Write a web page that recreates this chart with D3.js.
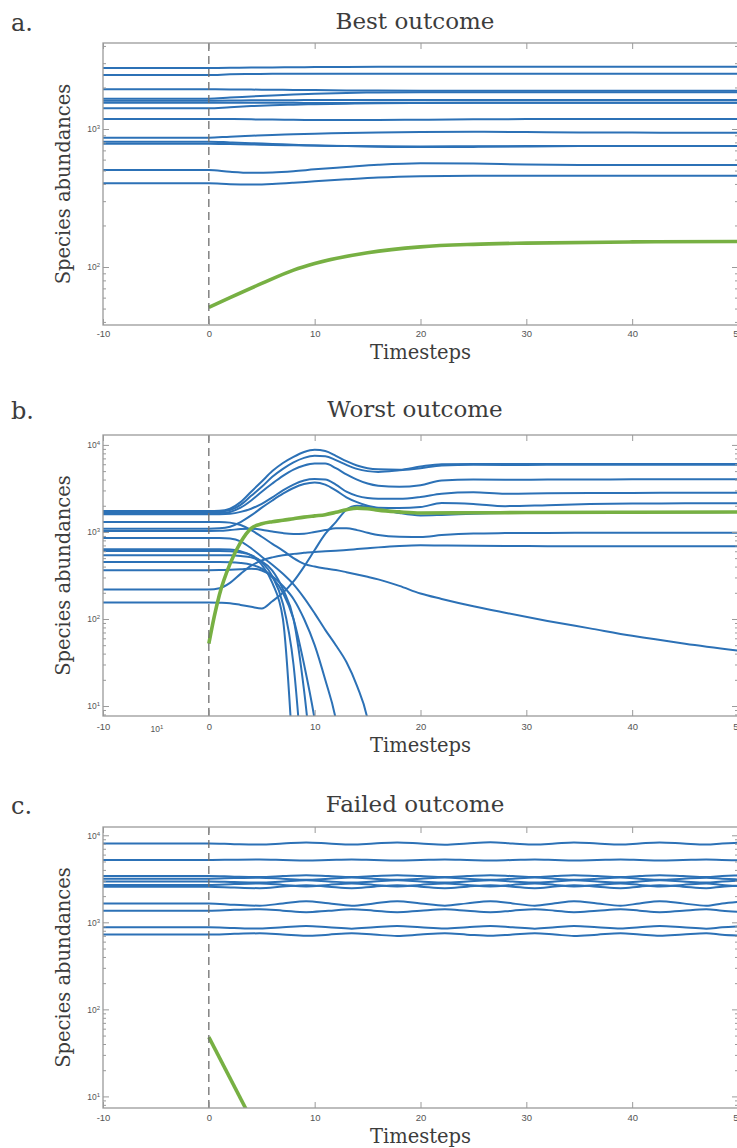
<!DOCTYPE html>
<html><head><meta charset="utf-8">
<script src="https://cdn.jsdelivr.net/npm/d3@7"></script>
<style>body{margin:0;background:#fff;overflow:hidden}svg{display:block}</style>
</head><body><svg id="c" width="737" height="1148"></svg>
<script>
// ---------- shared ----------
const xDomain = [-10, 50];
const xTicks = [-10, 0, 10, 20, 30, 40, 50];

// ---------- panel a : Best outcome ----------
const yDomainA = [38, 4200];
const timesA = [-10, 0, 2, 4, 6, 8, 10, 13, 16, 20, 25, 30, 35, 40, 45, 50];
const blueA = [
  [2770,2770,2775,2785,2795,2805,2810,2815,2820,2825,2826,2826,2826,2826,2826,2826],
  [2460,2460,2490,2505,2510,2512,2514,2515,2516,2516,2516,2516,2516,2516,2516,2516],
  [1940,1940,1935,1930,1925,1920,1915,1905,1900,1896,1895,1895,1895,1896,1896,1896],
  [1660,1660,1690,1720,1750,1780,1800,1825,1840,1848,1850,1850,1850,1850,1850,1850],
  [1605,1605,1610,1614,1617,1619,1620,1621,1622,1622,1622,1622,1622,1622,1622,1622],
  [1553,1553,1552,1550,1548,1547,1546,1546,1548,1550,1552,1553,1553,1553,1553,1553],
  [1413,1413,1440,1465,1485,1500,1512,1525,1535,1542,1548,1550,1550,1550,1550,1550],
  [1181,1181,1180,1175,1170,1165,1162,1160,1162,1168,1175,1180,1181,1181,1181,1181],
  [865,865,880,893,905,915,925,935,945,952,955,950,945,942,940,940],
  [809,809,800,790,780,770,760,752,745,740,742,748,752,753,753,753],
  [783,783,778,772,767,762,758,754,750,748,750,752,753,753,753,753],
  [505,505,490,482,485,495,510,530,550,565,562,553,549,548,548,548],
  [404,404,398,396,400,408,418,432,445,455,459,459,459,459,459,459]
];
const greenTimesA = [0, 2, 5, 8, 10, 15, 20, 25, 30, 40, 50];
const greenA = [51, 60, 76, 95, 106, 127, 140, 146, 149, 152, 153];

// ---------- panel b : Worst outcome ----------
const yDomainB = [7.68, 13000];
const timesB = [-10,0,1,2,3,4,5,6,7,8,9,10,11,12,13,14,15,16,18,20,22,25,28,32,36,40,45,50];
const blueB = [
  [1740,1740,1750,1850,2200,2900,3800,5000,6200,7300,8300,8800,8500,7500,6500,5800,5400,5250,5200,5650,6000,6050,6020,6040,6050,6050,6050,6050],
  [1700,1700,1710,1780,2050,2600,3300,4300,5300,6300,7100,7500,7400,6700,5900,5300,5000,4900,5100,5400,5800,5900,5880,5900,5900,5900,5900,5900],
  [1650,1650,1655,1700,1900,2300,2900,3600,4400,5200,5800,6100,6100,5400,4600,4000,3600,3400,3300,3450,3900,4000,3980,4000,4010,4020,4020,4020],
  [1596,1596,1600,1620,1700,1850,2100,2500,3000,3500,3900,4050,4000,3500,2900,2600,2450,2400,2400,2520,2750,2850,2750,2780,2800,2810,2820,2820],
  [1091,1091,1100,1150,1300,1550,1900,2300,2750,3200,3550,3700,3500,3000,2500,2200,2000,1900,1880,1930,2150,2100,1980,2030,2090,2120,2130,2133],
  [1027,1027,1030,1050,1080,1090,1060,1010,970,950,955,1000,1050,1100,1100,1050,980,920,880,877,920,960,970,975,978,980,981,982],
  [155,155,154,152,145,138,132,160,200,270,400,620,950,1300,1800,2000,1950,1850,1650,1550,1570,1620,1650,1660,1670,1680,1685,1690],
  [218,218,225,260,330,410,470,510,540,560,575,590,600,610,620,635,650,665,690,703,698,692,688,687,686,686,686,686],
  [1302,1302,1300,1280,1200,1050,880,730,610,500,430,400,380,365,345,325,305,285,240,196,170,140,118,95,78,64,52,43.4],
  [634,634,634,630,600,540,420,260,100,2],
  [605,605,605,600,580,540,450,310,150,30,1],
  [541,541,541,540,530,510,460,360,220,100,15,1],
  [453,453,453,450,440,420,380,300,200,100,30,7,1],
  [364,364,365,368,372,378,360,310,240,170,100,50,20,7,1],
  [853,853,852,840,780,650,520,420,330,250,175,116,75,50,32,17,7,1]
];
const greenTimesB = [0,0.5,1,2,3,4,5,6,7,8,9,10,11,12,13,14,15,16,18,20,25,30,40,50];
const greenB = [52,105,190,430,760,1100,1240,1310,1360,1420,1480,1530,1580,1680,1800,1880,1850,1780,1700,1650,1660,1670,1685,1695];

// ---------- panel c : Failed outcome ----------
const yDomainC = [7.36, 12450];
const timesC = [-10,0,2.4,4.8,7,9.2,11.3,13.5,15.6,17.8,20,22.3,24.4,26.6,28.7,30.8,32.7,34.5,36.7,38.9,40.7,42.6,44.8,47,48.5,50];
const blueC = [
  [8050,8050,7910,7820,8040,8280,8060,7830,8050,8270,8040,7810,8060,8290,8050,7820,8040,8280,8050,7830,8060,8270,8040,7820,8030,8210],
  [5200,5200,5235,5260,5205,5140,5195,5255,5200,5145,5200,5260,5205,5140,5195,5255,5200,5145,5200,5260,5205,5140,5195,5255,5200,5160],
  [3400,3400,3350,3318,3398,3482,3405,3315,3400,3485,3402,3318,3397,3480,3400,3316,3403,3484,3399,3315,3400,3482,3401,3317,3398,3460],
  [3170,3170,3228,3262,3172,3078,3168,3265,3170,3075,3172,3263,3169,3076,3171,3264,3170,3077,3168,3265,3172,3075,3170,3262,3171,3105],
  [2950,2950,2898,2862,2948,3036,2952,2864,2950,3038,2949,2861,2951,3035,2950,2863,2948,3037,2952,2862,2950,3036,2949,2864,2951,3010],
  [2690,2690,2755,2796,2692,2584,2688,2798,2690,2582,2693,2797,2689,2585,2691,2796,2690,2583,2688,2798,2692,2582,2690,2795,2691,2616],
  [2570,2570,2508,2468,2572,2672,2568,2466,2570,2673,2571,2468,2569,2671,2570,2467,2572,2672,2568,2468,2570,2673,2571,2466,2569,2640],
  [1650,1650,1592,1552,1648,1748,1652,1550,1650,1750,1649,1553,1651,1747,1650,1551,1652,1749,1648,1552,1650,1748,1651,1550,1649,1718],
  [1360,1360,1392,1413,1362,1307,1358,1414,1360,1306,1361,1412,1359,1308,1360,1414,1361,1306,1359,1413,1360,1307,1361,1412,1360,1323],
  [877,877,859,847,876,907,878,846,877,908,876,847,878,906,877,846,876,908,878,847,877,907,876,846,878,897],
  [723,723,738,747,724,699,722,748,723,698,724,747,722,699,723,748,724,698,722,747,723,699,724,748,722,706]
];
const greenTimesC = [0, 4];
const greenC = [48, 5.5];

// ---------- drawing ----------
const BLUE = '#2c71b6', GREEN = '#77b043', AXC = '#9a9a9a', TXT = '#3c3c3c', TICKTXT = '#555';
const SERIF = "'DejaVu Serif', serif", SANS = "'Liberation Sans', Arial, sans-serif";
const X0 = 103, X1 = 738;
const svg = d3.select('#c');

const panels = [
  {id:'a', label:'a.', title:'Best outcome', top:43, bottom:325, dom:yDomainA, times:timesA, blue:blueA, gt:greenTimesA, gv:greenA, titleY:29, xlabY:359, pad:5},
  {id:'b', label:'b.', title:'Worst outcome', top:435, bottom:716, dom:yDomainB, times:timesB, blue:blueB, gt:greenTimesB, gv:greenB, titleY:417, xlabY:752, pad:7},
  {id:'c', label:'c.', title:'Failed outcome', top:827, bottom:1108, dom:yDomainC, times:timesC, blue:blueC, gt:greenTimesC, gv:greenC, titleY:812, xlabY:1143, pad:6}
];

const x = d3.scaleLinear().domain(xDomain).range([X0, X1]);

panels.forEach(p => {
  const y = d3.scaleLog().domain(p.dom).range([p.bottom, p.top]);
  const g = svg.append('g');
  const clipId = 'clip' + p.id;
  svg.append('clipPath').attr('id', clipId).append('rect')
    .attr('x', X0).attr('y', p.top).attr('width', X1 - X0).attr('height', p.bottom - p.top);

  const line = d3.line().defined(d => d[1] != null).x(d => x(d[0])).y(d => y(d[1])).curve(d3.curveMonotoneX);
  const lg = g.append('g').attr('clip-path', `url(#${clipId})`);

  p.blue.forEach(vals => {
    const pts = vals.map((v, i) => [p.times[i], v]);
    lg.append('path').attr('d', line(pts)).attr('fill', 'none')
      .attr('stroke', BLUE).attr('stroke-width', 2).attr('stroke-linejoin', 'round');
  });
  const gpts = p.gv.map((v, i) => [p.gt[i], v]);
  lg.append('path').attr('d', line(gpts)).attr('fill', 'none')
    .attr('stroke', GREEN).attr('stroke-width', 3.6).attr('stroke-linecap', 'butt');

  // dashed line at t = 0
  lg.append('line').attr('x1', x(0)).attr('x2', x(0)).attr('y1', p.top).attr('y2', p.bottom)
    .attr('stroke', '#6f6f6f').attr('stroke-width', 1.3).attr('stroke-dasharray', '8,5');

  // axes
  const h = p.bottom - p.top;
  const styleAxis = sel => {
    sel.select('.domain').remove();
    sel.selectAll('line').attr('stroke', AXC).attr('stroke-width', 1);
    sel.selectAll('text').attr('fill', TICKTXT).attr('font-family', SANS).attr('font-size', 9.5);
  };
  g.append('g').attr('transform', `translate(0,${p.bottom})`)
    .call(d3.axisBottom(x).tickValues(xTicks).tickSize(-6).tickPadding(p.pad).tickFormat(d => String(d)))
    .call(styleAxis);
  g.append('g').attr('transform', `translate(0,${p.top})`)
    .call(d3.axisTop(x).tickValues(xTicks).tickSize(-6).tickFormat(''))
    .call(styleAxis);

  const lo = p.dom[0], hi = p.dom[1];
  const majors = [], minors = [];
  for (let k = Math.floor(Math.log10(lo)); k <= Math.ceil(Math.log10(hi)); k++) {
    for (let m = 1; m <= 9; m++) {
      const v = m * Math.pow(10, k);
      if (v >= lo && v <= hi) (m === 1 ? majors : minors).push(v);
    }
  }
  const supLabel = sel => sel.selectAll('text').each(function(d) {
    const t = d3.select(this); t.text('');
    t.append('tspan').text('10');
    t.append('tspan').attr('dy', '-0.5em').attr('font-size', 6).text(Math.round(Math.log10(d)));
  });
  g.append('g').attr('transform', `translate(${X0},0)`)
    .call(d3.axisLeft(y).tickValues(majors).tickSize(-6).tickPadding(3))
    .call(styleAxis).call(sel => sel.selectAll('text').attr('font-size', 8.5)).call(supLabel);
  g.append('g').attr('transform', `translate(${X0},0)`)
    .call(d3.axisLeft(y).tickValues(minors).tickSize(-3).tickFormat(''))
    .call(styleAxis);
  g.append('g').attr('transform', `translate(${X1},0)`)
    .call(d3.axisRight(y).tickValues(majors).tickSize(-6).tickFormat(''))
    .call(styleAxis);
  g.append('g').attr('transform', `translate(${X1},0)`)
    .call(d3.axisRight(y).tickValues(minors).tickSize(-3).tickFormat(''))
    .call(styleAxis);

  // box
  g.append('rect').attr('x', X0).attr('y', p.top).attr('width', X1 - X0).attr('height', h)
    .attr('fill', 'none').attr('stroke', AXC).attr('stroke-width', 1.3);

  // texts
  g.append('text').attr('x', 415).attr('y', p.titleY).attr('text-anchor', 'middle')
    .attr('font-family', SERIF).attr('font-size', 23).attr('fill', TXT).text(p.title);
  g.append('text').attr('x', 11).attr('y', p.titleY + 2)
    .attr('font-family', SERIF).attr('font-size', 24).attr('fill', TXT).text(p.label);
  g.append('text').attr('x', (X0 + X1) / 2).attr('y', p.xlabY).attr('text-anchor', 'middle')
    .attr('font-family', SERIF).attr('font-size', 19.5).attr('fill', TXT).text('Timesteps');
  g.append('text').attr('transform', `translate(70,${(p.top + p.bottom) / 2}) rotate(-90)`)
    .attr('text-anchor', 'middle').attr('font-family', SERIF).attr('font-size', 19.5)
    .attr('fill', TXT).text('Species abundances');
});

// stray label present in panel b of the original figure
const stray = svg.append('text').attr('x', 157).attr('y', 732).attr('text-anchor', 'middle')
  .attr('font-family', SANS).attr('font-size', 8.5).attr('fill', TICKTXT);
stray.append('tspan').text('10');
stray.append('tspan').attr('dy', '-0.5em').attr('font-size', 6).text('1');
</script>
</body></html>
